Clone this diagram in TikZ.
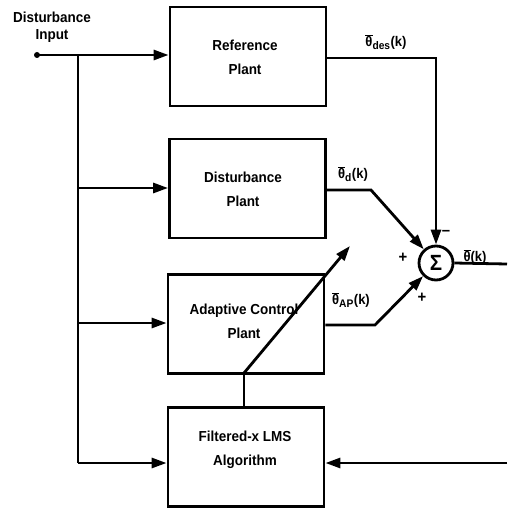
\documentclass[tikz,border=0pt]{standalone}
\usepackage{fontspec}
\setmainfont[FakeStretch=0.93]{Liberation Sans}
\usetikzlibrary{arrows.meta}
\newcommand{\thb}{\ensuremath{\overline{\mbox{θ}}}}
\begin{document}
\begin{tikzpicture}[x=1pt,y=-1pt,
  font=\bfseries\fontsize{14.5}{17}\selectfont,
  line width=2.8pt,
  plantbox/.style={draw,rectangle,minimum width=156pt,minimum height=99pt,inner sep=0pt},
  boxtext/.style={align=center,font=\bfseries\fontsize{14.5}{24}\selectfont},
  arr/.style={-{Triangle[length=15pt,width=10pt]}},
  sumnode/.style={draw,circle,minimum size=34pt,inner sep=0pt},
  sig/.style={inner sep=0pt,font=\bfseries\fontsize{14}{16}\selectfont},
  signs/.style={inner sep=0pt,font=\bfseries\fontsize{16}{16}\selectfont}]
\useasboundingbox (0,0) rectangle (507,508);
% boxes
\node[plantbox] (ref) at (248,56.5) {};
\node[plantbox] (dist) at (247.5,188.5) {};
\node[plantbox] (adp) at (246,324) {};
\node[plantbox] (lms) at (246,457) {};
\node[boxtext] (reft) at (245,57) {Reference\\Plant};
\node[boxtext] (distt) at (243,189) {Disturbance\\Plant};
\node[boxtext] (adpt) at (244,321) {Adaptive Control\\Plant};
\node[boxtext] (lmst) at (245,450) {Filtered-x LMS\\Algorithm};
% input
\node[align=center,inner sep=0pt] (inlab) at (52,27) {Disturbance\\Input};
\fill (37,55) circle (3pt) coordinate (in);
\coordinate (j1) at (78,55);
\coordinate (j4) at (78,463);
\draw[arr] (in) -- (ref.west |- in);
\draw (j1) -- (j4);
\draw[arr] (j4) -- (lms.west |- j4);
\draw[arr] (78,188) coordinate (j2) -- (dist.west |- j2);
\draw[arr] (78,323) coordinate (j3) -- (adp.west |- j3);
% summing junction
\node[sumnode] (sum) at (436,263) {\fontsize{22}{22}\selectfont Σ};
% reference output
\coordinate (r1) at (ref.east |- 0,58);
\coordinate (r2) at (436,58);
\draw[arr] (r1) -- (r2) -- (sum.north);
\node[sig] (thdes) at (386,42) {\thb$_{\mbox{\bfseries\fontsize{11}{11}\selectfont des}}$(k)};
% disturbance output
\coordinate (d1) at (dist.east |- 0,190);
\coordinate (d2) at (371,190);
\draw[arr] (d1) -- (d2) -- (sum);
\node[sig] (thd) at (353,174) {\thb$_{\mbox{\bfseries\fontsize{11}{11}\selectfont d}}$(k)};
% adaptive output
\coordinate (a1) at (adp.east |- 0,325);
\coordinate (a2) at (375,325);
\draw[arr] (a1) -- (a2) -- (sum);
\node[sig] (thap) at (351,300) {\thb$_{\mbox{\bfseries\fontsize{11}{11}\selectfont AP}}$(k)};
% signs
\node[signs] (minus) at (446,233) {–};
\node[signs] (plus1) at (403,258) {+};
\node[signs] (plus2) at (422,298) {+};
% output
\coordinate (out) at (507,264);
\draw (sum.east) -- (out);
\node[sig] (th) at (475,257) {\thb(k)};
% feedback
\coordinate (fb) at (507,463);
\draw[arr] (fb) -- (lms.east |- fb);
% adaptation arrow
\coordinate (ad1) at (244,373);
\coordinate (ad2) at (350,246);
\draw (lms.north -| ad1) -- (ad1);
\draw[arr] (ad1) -- (ad2);
\end{tikzpicture}
\end{document}
